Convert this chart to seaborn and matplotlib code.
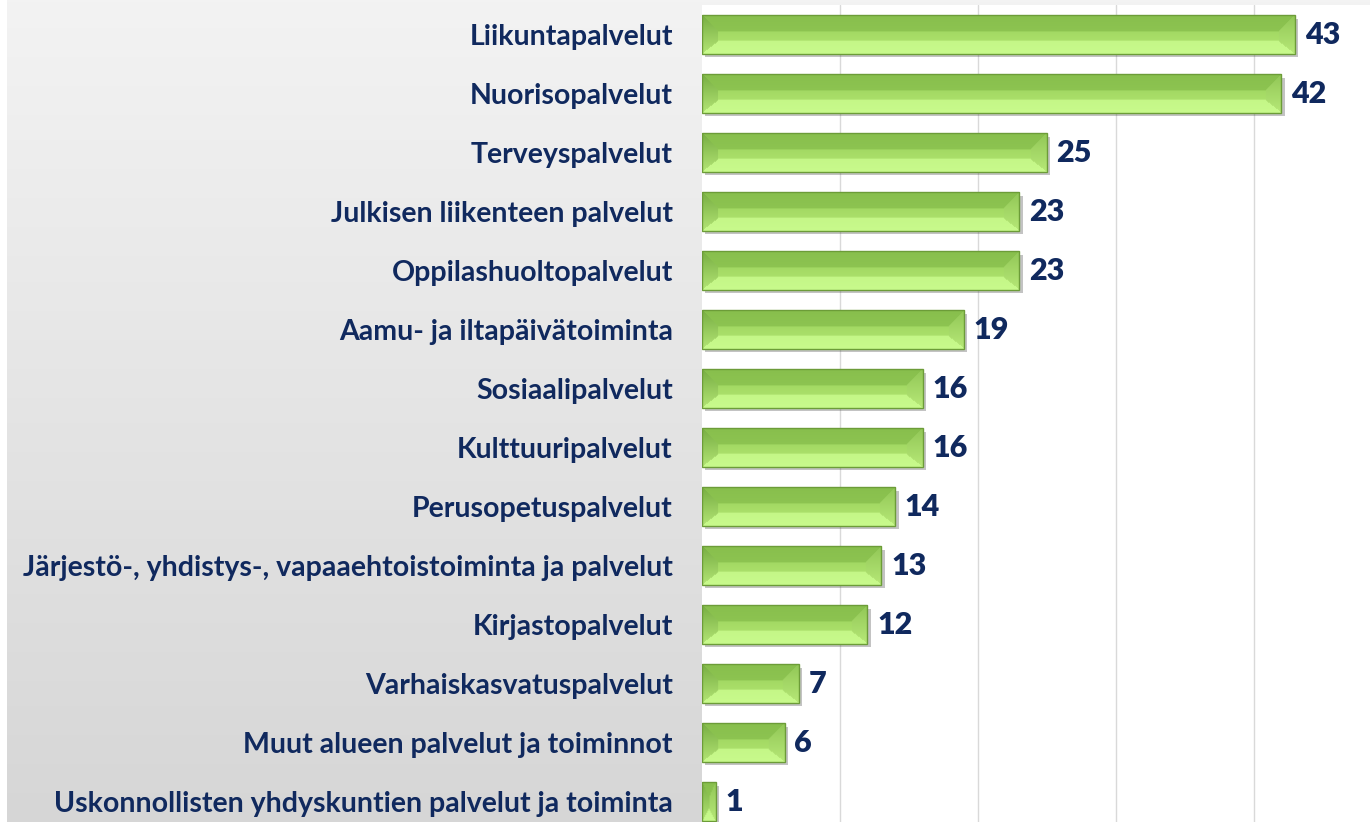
import numpy as np
import pandas as pd
import matplotlib.pyplot as plt
import seaborn as sns
from matplotlib.colors import LinearSegmentedColormap, to_rgb
from matplotlib.patches import Rectangle
import matplotlib.patheffects as pe

categories = [
    "Liikuntapalvelut",
    "Nuorisopalvelut",
    "Terveyspalvelut",
    "Julkisen liikenteen palvelut",
    "Oppilashuoltopalvelut",
    "Aamu- ja iltapäivätoiminta",
    "Sosiaalipalvelut",
    "Kulttuuripalvelut",
    "Perusopetuspalvelut",
    "Järjestö-, yhdistys-, vapaaehtoistoiminta ja palvelut",
    "Kirjastopalvelut",
    "Varhaiskasvatuspalvelut",
    "Muut alueen palvelut ja toiminnot",
    "Uskonnollisten yhdyskuntien palvelut ja toiminta",
]
values = [43, 42, 25, 23, 23, 19, 16, 16, 14, 13, 12, 7, 6, 1]

NAVY = "#10295e"
W_PX, H_PX = 1370, 822


def vgrad(h, c_top, c_bot):
    t = (np.arange(h) / max(h - 1, 1))[:, None, None]
    return (1 - t) * np.array(to_rgb(c_top)) + t * np.array(to_rgb(c_bot))


def bevel_texture(w, h):
    # Excel-style bevel: dark top facet, light bottom facet, side triangles
    w, h = max(int(w), 2), max(int(h), 2)
    i = np.arange(h)[:, None] * np.ones((1, w))
    j = np.ones((h, 1)) * np.arange(w)[None, :]
    bx = min(16.0, w / 2.0)
    d = np.stack([i / (h * 0.42), (h - 1 - i) / (h * 0.32), j / bx, (w - 1 - j) / bx])
    face = np.argmin(d, axis=0)[..., None]
    inside = (d.min(axis=0) >= 1)[..., None]
    top = vgrad(h, "#88bf4d", "#93ca56") * np.ones((1, w, 1))
    bot = vgrad(h, "#bdf07e", "#c8fa8c") * np.ones((1, w, 1))
    left = vgrad(h, "#78ae43", "#b2e474") * np.ones((1, w, 1))
    right = vgrad(h, "#92c757", "#b6e877") * np.ones((1, w, 1))
    centre = vgrad(h, "#97ce58", "#b4e873") * np.ones((1, w, 1))
    img = np.where(face == 0, top, np.where(face == 1, bot, np.where(face == 2, left, right)))
    img = np.where(inside, centre, img)
    return img


def main():
    df = pd.DataFrame({"palvelu": categories, "maara": values})

    sns.set_theme(style="white")
    plt.rcParams["font.family"] = ["Lato", "DejaVu Sans"]

    fig = plt.figure(figsize=(W_PX / 100, H_PX / 100), dpi=100)
    fig.patch.set_facecolor("white")

    # grey gradient behind everything
    bg = fig.add_axes([7 / W_PX, 0, 1 - 7 / W_PX, 1], zorder=0)
    bg.imshow(np.linspace(0, 1, 256).reshape(-1, 1), aspect="auto",
              cmap=LinearSegmentedColormap.from_list("bg", ["#f3f3f3", "#d6d6d6"]),
              extent=[0, 1, 0, 1])
    bg.axis("off")

    top_px, row_px = 5, 59
    bottom_px = top_px + row_px * len(categories)
    ax = fig.add_axes([702 / W_PX, (H_PX - bottom_px) / H_PX,
                       1 - 702 / W_PX, (bottom_px - top_px) / H_PX], zorder=1)
    ax.set_facecolor("white")

    sns.barplot(data=df, y="palvelu", x="maara", orient="h", color="#9ad35a",
                edgecolor="none", width=0.66, ax=ax)

    ax.set_xlim(0, 48.44)
    ax.set_ylim(len(categories) - 0.5, -0.5)
    xl, yl = ax.get_xlim(), ax.get_ylim()

    renderer = fig.canvas.get_renderer()
    for p in ax.patches:
        p.set_path_effects([pe.SimplePatchShadow(offset=(2.5, -2.5), alpha=0.35,
                                                 shadow_rgbFace="#555555"), pe.Normal()])
        p.set_zorder(2)
        bb = p.get_window_extent(renderer=renderer)
        img = bevel_texture(bb.width, bb.height)
        x0, y0, w, h = p.get_x(), p.get_y(), p.get_width(), p.get_height()
        ax.imshow(img, extent=(x0, x0 + w, y0 + h, y0), aspect="auto",
                  interpolation="bilinear", zorder=2.5)
        ax.add_patch(Rectangle((x0, y0), w, h, fill=False, edgecolor="#6c9c38",
                               linewidth=1.0, zorder=3))

    ax.set_xlim(xl)
    ax.set_ylim(yl)

    ax.bar_label(ax.containers[0], padding=7, fontsize=22, fontweight="heavy",
                 color=NAVY)

    ax.set_xticks([10, 20, 30, 40])
    ax.xaxis.grid(True, color="#d9d9d9", linewidth=1.0)
    ax.set_axisbelow(True)
    ax.tick_params(axis="x", labelbottom=False, length=0)
    ax.tick_params(axis="y", length=0, pad=21, labelsize=20.5, labelcolor=NAVY)
    for lab in ax.get_yticklabels():
        lab.set_fontweight("bold")
    ax.set_xlabel("")
    ax.set_ylabel("")
    sns.despine(ax=ax, left=True, bottom=True)

    fig.savefig("out.png", dpi=100)


if __name__ == "__main__":
    main()
